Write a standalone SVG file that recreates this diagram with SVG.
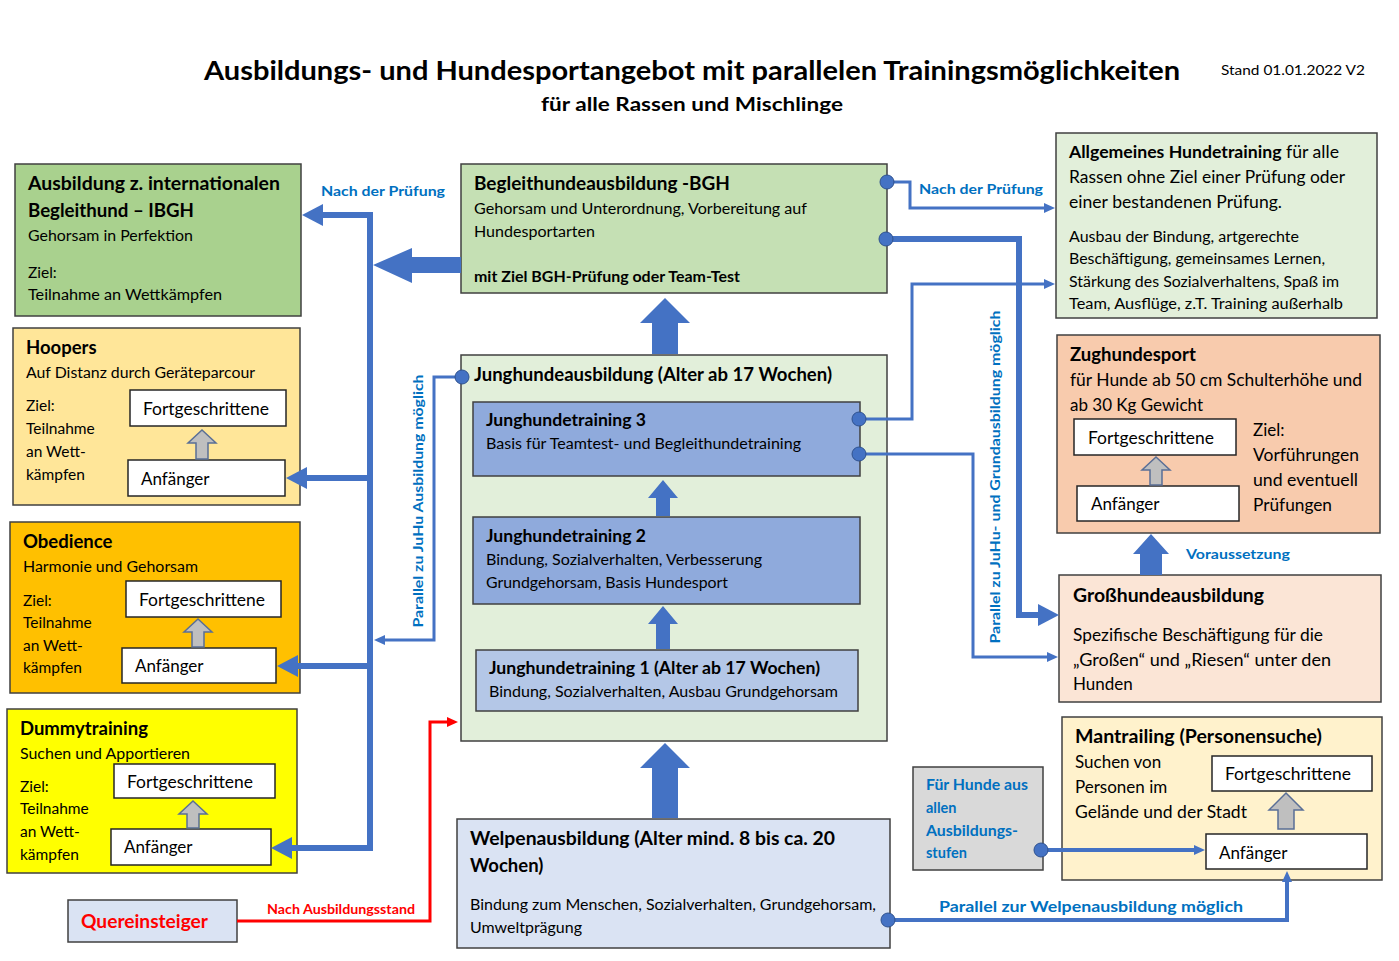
<svg xmlns="http://www.w3.org/2000/svg" width="1399" height="961" viewBox="0 0 1399 961">
<style>
text{font-family:Lato,"Open Sans","Liberation Sans",sans-serif;fill:#000}
.b{font-weight:bold}
.t{font-size:18.5px;font-weight:bold}
.d{font-size:15.5px}
.m{font-size:17px}
.lbl{font-size:13.5px;font-weight:bold;fill:#0070c0}
.box{stroke:#404040;stroke-width:1.5}
.wb{fill:#fff;stroke:#262626;stroke-width:1.5}
.ga{fill:#bfbfbf;stroke:#5a6f96;stroke-width:1.5}
.ba{fill:#4472c4}
.thick{fill:none;stroke:#4472c4;stroke-width:6}
.thin{fill:none;stroke:#4472c4;stroke-width:3}
.dot{fill:#4472c4;stroke:#2f528f;stroke-width:1}
</style>
<defs>
<marker id="big" markerUnits="userSpaceOnUse" markerWidth="22" markerHeight="24" refX="0" refY="12" orient="auto"><path d="M0,1 L21,12 L0,23 Z" fill="#4472c4"/></marker>
<marker id="sm" markerUnits="userSpaceOnUse" markerWidth="12" markerHeight="12" refX="0" refY="6" orient="auto"><path d="M0,1 L11,6 L0,11 Z" fill="#4472c4"/></marker>
<marker id="red" markerUnits="userSpaceOnUse" markerWidth="12" markerHeight="12" refX="0" refY="6" orient="auto"><path d="M0,1 L11,6 L0,11 Z" fill="#ff0000"/></marker>
</defs>

<g id="title">
<text x="204" y="80" class="b" font-size="26" textLength="976" lengthAdjust="spacingAndGlyphs">Ausbildungs- und Hundesportangebot mit parallelen Trainingsmöglichkeiten</text>
<text x="541" y="111" class="b" font-size="19" textLength="302" lengthAdjust="spacingAndGlyphs">für alle Rassen und Mischlinge</text>
<text x="1221" y="75" font-size="14" textLength="144" lengthAdjust="spacingAndGlyphs">Stand 01.01.2022 V2</text>
</g>

<g id="ibgh">
<rect class="box" x="15" y="164" width="286" height="152" fill="#a9d18e"/>
<text x="28" y="190" class="t" textLength="252" lengthAdjust="spacingAndGlyphs">Ausbildung z. internationalen</text>
<text x="28" y="217" class="t" textLength="166" lengthAdjust="spacingAndGlyphs">Begleithund – IBGH</text>
<text x="28" y="241" class="d" textLength="165" lengthAdjust="spacingAndGlyphs">Gehorsam in Perfektion</text>
<text x="28" y="278" class="d">Ziel:</text>
<text x="28" y="300" class="d" textLength="194" lengthAdjust="spacingAndGlyphs">Teilnahme an Wettkämpfen</text>
</g>

<g id="hoopers">
<rect class="box" x="13" y="328" width="287" height="177" fill="#ffe699"/>
<text x="26" y="354" class="t">Hoopers</text>
<text x="26" y="378" class="d" textLength="229" lengthAdjust="spacingAndGlyphs">Auf Distanz durch Geräteparcour</text>
<text x="26" y="411" class="d">Ziel:</text>
<text x="26" y="434" class="d">Teilnahme</text>
<text x="26" y="457" class="d">an Wett-</text>
<text x="26" y="480" class="d">kämpfen</text>
<rect class="wb" x="130" y="390" width="156" height="36"/>
<text x="143" y="415" class="m" textLength="126" lengthAdjust="spacingAndGlyphs">Fortgeschrittene</text>
<rect class="wb" x="128" y="460" width="157" height="36"/>
<text x="141" y="485" class="m">Anfänger</text>
<path class="ga" d="M202,430 L216,443 L208,443 L208,459 L196,459 L196,443 L188,443 Z"/>
</g>

<g id="obedience">
<rect class="box" x="10" y="522" width="290" height="171" fill="#ffc000"/>
<text x="23" y="548" class="t">Obedience</text>
<text x="23" y="572" class="d" textLength="175" lengthAdjust="spacingAndGlyphs">Harmonie und Gehorsam</text>
<text x="23" y="606" class="d">Ziel:</text>
<text x="23" y="628" class="d">Teilnahme</text>
<text x="23" y="651" class="d">an Wett-</text>
<text x="23" y="673" class="d">kämpfen</text>
<rect class="wb" x="126" y="581" width="155" height="36"/>
<text x="139" y="606" class="m" textLength="126" lengthAdjust="spacingAndGlyphs">Fortgeschrittene</text>
<rect class="wb" x="122" y="648" width="154" height="35"/>
<text x="135" y="672" class="m">Anfänger</text>
<path class="ga" d="M198,619 L212,632 L204,632 L204,647 L192,647 L192,632 L184,632 Z"/>
</g>

<g id="dummy">
<rect class="box" x="7" y="709" width="290" height="164" fill="#ffff00"/>
<text x="20" y="735" class="t">Dummytraining</text>
<text x="20" y="759" class="d" textLength="170" lengthAdjust="spacingAndGlyphs">Suchen und Apportieren</text>
<text x="20" y="792" class="d">Ziel:</text>
<text x="20" y="814" class="d">Teilnahme</text>
<text x="20" y="837" class="d">an Wett-</text>
<text x="20" y="860" class="d">kämpfen</text>
<rect class="wb" x="114" y="764" width="161" height="34"/>
<text x="127" y="788" class="m" textLength="126" lengthAdjust="spacingAndGlyphs">Fortgeschrittene</text>
<rect class="wb" x="111" y="829" width="160" height="36"/>
<text x="124" y="853" class="m">Anfänger</text>
<path class="ga" d="M193,801 L207,814 L199,814 L199,828 L187,828 L187,814 L179,814 Z"/>
</g>

<g id="quereinsteiger">
<rect class="box" x="68" y="900" width="169" height="42" fill="#dae3f3"/>
<text x="81" y="928" font-size="18.5" font-weight="bold" style="fill:#ff0000" textLength="127" lengthAdjust="spacingAndGlyphs">Quereinsteiger</text>
</g>

<g id="bgh">
<rect class="box" x="461" y="164" width="426" height="129" fill="#c5e0b4"/>
<text x="474" y="190" class="t" textLength="256" lengthAdjust="spacingAndGlyphs">Begleithundeausbildung -BGH</text>
<text x="474" y="214" class="d" textLength="333" lengthAdjust="spacingAndGlyphs">Gehorsam und Unterordnung, Vorbereitung auf</text>
<text x="474" y="237" class="d" textLength="121" lengthAdjust="spacingAndGlyphs">Hundesportarten</text>
<text x="474" y="282" class="d b" textLength="266" lengthAdjust="spacingAndGlyphs">mit Ziel BGH-Prüfung oder Team-Test</text>
</g>

<g id="junghund">
<rect class="box" x="461" y="355" width="426" height="386" fill="#e2efda"/>
<text x="474" y="381" class="t" textLength="358" lengthAdjust="spacingAndGlyphs">Junghundeausbildung (Alter ab 17 Wochen)</text>
</g>

<g id="jt3">
<rect class="box" x="473" y="402" width="387" height="74" fill="#8faadc"/>
<text x="486" y="426" class="b" font-size="16.5" textLength="160" lengthAdjust="spacingAndGlyphs">Junghundetraining 3</text>
<text x="486" y="449" class="d" textLength="315" lengthAdjust="spacingAndGlyphs">Basis für Teamtest- und Begleithundetraining</text>
</g>

<g id="jt2">
<rect class="box" x="473" y="517" width="387" height="87" fill="#8faadc"/>
<text x="486" y="542" class="b" font-size="16.5" textLength="160" lengthAdjust="spacingAndGlyphs">Junghundetraining 2</text>
<text x="486" y="565" class="d" textLength="276" lengthAdjust="spacingAndGlyphs">Bindung, Sozialverhalten, Verbesserung</text>
<text x="486" y="588" class="d" textLength="242" lengthAdjust="spacingAndGlyphs">Grundgehorsam, Basis Hundesport</text>
</g>

<g id="jt1">
<rect class="box" x="476" y="650" width="382" height="61" fill="#b4c7e7"/>
<text x="489" y="674" class="b" font-size="16.5" textLength="331" lengthAdjust="spacingAndGlyphs">Junghundetraining 1 (Alter ab 17 Wochen)</text>
<text x="489" y="697" class="d" textLength="349" lengthAdjust="spacingAndGlyphs">Bindung, Sozialverhalten, Ausbau Grundgehorsam</text>
</g>

<g id="welpen">
<rect class="box" x="457" y="819" width="433" height="129" fill="#dae3f3"/>
<text x="470" y="845" class="t" textLength="365" lengthAdjust="spacingAndGlyphs">Welpenausbildung (Alter mind. 8 bis ca. 20</text>
<text x="470" y="872" class="t">Wochen)</text>
<text x="470" y="910" class="d" textLength="406" lengthAdjust="spacingAndGlyphs">Bindung zum Menschen, Sozialverhalten, Grundgehorsam,</text>
<text x="470" y="933" class="d" textLength="112" lengthAdjust="spacingAndGlyphs">Umweltprägung</text>
</g>

<g id="allgemein">
<rect class="box" x="1056" y="133" width="321" height="185" fill="#e2efda"/>
<text x="1069" y="158" class="m" textLength="270" lengthAdjust="spacingAndGlyphs"><tspan class="b">Allgemeines Hundetraining</tspan> für alle</text>
<text x="1069" y="183" class="m" textLength="276" lengthAdjust="spacingAndGlyphs">Rassen ohne Ziel einer Prüfung oder</text>
<text x="1069" y="208" class="m" textLength="213" lengthAdjust="spacingAndGlyphs">einer bestandenen Prüfung.</text>
<text x="1069" y="242" class="d" textLength="230" lengthAdjust="spacingAndGlyphs">Ausbau der Bindung, artgerechte</text>
<text x="1069" y="264" class="d" textLength="256" lengthAdjust="spacingAndGlyphs">Beschäftigung, gemeinsames Lernen,</text>
<text x="1069" y="287" class="d" textLength="270" lengthAdjust="spacingAndGlyphs">Stärkung des Sozialverhaltens, Spaß im</text>
<text x="1069" y="309" class="d" textLength="274" lengthAdjust="spacingAndGlyphs">Team, Ausflüge, z.T. Training außerhalb</text>
</g>

<g id="zughund">
<rect class="box" x="1057" y="335" width="323" height="198" fill="#f8cbad"/>
<text x="1070" y="361" class="t">Zughundesport</text>
<text x="1070" y="386" class="m" textLength="292" lengthAdjust="spacingAndGlyphs">für Hunde ab 50 cm Schulterhöhe und</text>
<text x="1070" y="411" class="m" textLength="133" lengthAdjust="spacingAndGlyphs">ab 30 Kg Gewicht</text>
<rect class="wb" x="1074" y="419" width="162" height="36"/>
<text x="1088" y="444" class="m" textLength="126" lengthAdjust="spacingAndGlyphs">Fortgeschrittene</text>
<rect class="wb" x="1077" y="486" width="162" height="35"/>
<text x="1091" y="510" class="m">Anfänger</text>
<path class="ga" d="M1156,457 L1170,470 L1162,470 L1162,485 L1150,485 L1150,470 L1142,470 Z"/>
<text x="1253" y="436" class="m">Ziel:</text>
<text x="1253" y="461" class="m" textLength="106" lengthAdjust="spacingAndGlyphs">Vorführungen</text>
<text x="1253" y="486" class="m" textLength="105" lengthAdjust="spacingAndGlyphs">und eventuell</text>
<text x="1253" y="511" class="m" textLength="79" lengthAdjust="spacingAndGlyphs">Prüfungen</text>
</g>

<g id="grosshund">
<rect class="box" x="1059" y="575" width="322" height="127" fill="#fbe5d6"/>
<text x="1073" y="602" class="t" textLength="191" lengthAdjust="spacingAndGlyphs">Großhundeausbildung</text>
<text x="1073" y="641" class="m" textLength="250" lengthAdjust="spacingAndGlyphs">Spezifische Beschäftigung für die</text>
<text x="1073" y="666" class="m" textLength="258" lengthAdjust="spacingAndGlyphs">„Großen“ und „Riesen“ unter den</text>
<text x="1073" y="690" class="m">Hunden</text>
</g>

<g id="fuer-hunde">
<rect class="box" x="913" y="767" width="130" height="103" fill="#d9d9d9"/>
<text x="926" y="790" class="lbl" style="font-size:14.5px" textLength="102" lengthAdjust="spacingAndGlyphs">Für Hunde aus</text>
<text x="926" y="813" class="lbl" style="font-size:14.5px">allen</text>
<text x="926" y="836" class="lbl" style="font-size:14.5px" textLength="92" lengthAdjust="spacingAndGlyphs">Ausbildungs-</text>
<text x="926" y="858" class="lbl" style="font-size:14.5px">stufen</text>
</g>

<g id="mantrailing">
<rect class="box" x="1062" y="717" width="320" height="163" fill="#fff2cc"/>
<text x="1075" y="743" class="t" textLength="247" lengthAdjust="spacingAndGlyphs">Mantrailing (Personensuche)</text>
<text x="1075" y="768" class="m">Suchen von</text>
<text x="1075" y="793" class="m">Personen im</text>
<text x="1075" y="818" class="m" textLength="172" lengthAdjust="spacingAndGlyphs">Gelände und der Stadt</text>
<rect class="wb" x="1212" y="756" width="160" height="35"/>
<text x="1225" y="780" class="m" textLength="126" lengthAdjust="spacingAndGlyphs">Fortgeschrittene</text>
<rect class="wb" x="1206" y="834" width="161" height="35"/>
<text x="1219" y="859" class="m">Anfänger</text>
<path class="ga" d="M1286,793 L1303,810 L1294,810 L1294,829 L1278,829 L1278,810 L1269,810 Z"/>
</g>

<g id="connectors">
<path class="thick" d="M370,212 V851"/>
<path class="thick" d="M373,215 H323" marker-end="url(#big)"/>
<path class="thick" d="M373,478 H307" marker-end="url(#big)"/>
<path class="thick" d="M373,666 H298" marker-end="url(#big)"/>
<path class="thick" d="M373,848 H292" marker-end="url(#big)"/>
<polygon class="ba" points="373,265 412,248 412,257 461,257 461,273 412,273 412,283"/>
<path class="thin" d="M461,377 H434 V640 H385" marker-end="url(#sm)"/>
<path d="M237,921 H430 V722 H447" fill="none" stroke="#ff0000" stroke-width="3" marker-end="url(#red)"/>
<path class="ba" d="M665,298 L690,323 L678,323 L678,354 L652,354 L652,323 L640,323 Z"/>
<path class="ba" d="M663,480 L678,498 L670,498 L670,516 L656,516 L656,498 L648,498 Z"/>
<path class="ba" d="M663,606 L678,624 L670,624 L670,649 L656,649 L656,624 L648,624 Z"/>
<path class="ba" d="M665,743 L690,768 L678,768 L678,818 L652,818 L652,768 L640,768 Z"/>
<path class="ba" d="M1151,534 L1169,554 L1162,554 L1162,575 L1140,575 L1140,554 L1133,554 Z"/>
<path class="thin" d="M887,182 H910 V208 H1044" marker-end="url(#sm)"/>
<path class="thick" d="M886,239 H1019 V615 H1038" marker-end="url(#big)"/>
<path class="thin" d="M859,419 H912 V284 H1044" marker-end="url(#sm)"/>
<path class="thin" d="M859,454 H973 V657 H1047" marker-end="url(#sm)"/>
<path d="M888,920 H1287 V882" fill="none" stroke="#4472c4" stroke-width="4" marker-end="url(#sm)"/>
<path d="M1041,850 H1194" fill="none" stroke="#4472c4" stroke-width="4" marker-end="url(#sm)"/>
<text x="321" y="196" class="lbl" textLength="124" lengthAdjust="spacingAndGlyphs">Nach der Prüfung</text>
<text x="919" y="194" class="lbl" textLength="124" lengthAdjust="spacingAndGlyphs">Nach der Prüfung</text>
<text x="267" y="914" font-size="13" font-weight="bold" style="fill:#ff0000" textLength="148" lengthAdjust="spacingAndGlyphs">Nach Ausbildungsstand</text>
<text class="lbl" text-anchor="middle" transform="translate(423,501) rotate(-90)" textLength="253" lengthAdjust="spacingAndGlyphs">Parallel zu JuHu Ausbildung möglich</text>
<text class="lbl" text-anchor="middle" transform="translate(1000,477) rotate(-90)" textLength="333" lengthAdjust="spacingAndGlyphs">Parallel zu JuHu- und Grundausbildung möglich</text>
<text x="1186" y="559" class="lbl" textLength="104" lengthAdjust="spacingAndGlyphs">Voraussetzung</text>
<text x="939" y="912" class="lbl" style="font-size:16px" textLength="304" lengthAdjust="spacingAndGlyphs">Parallel zur Welpenausbildung möglich</text>
<circle class="dot" cx="887" cy="182" r="7"/>
<circle class="dot" cx="886" cy="239" r="7"/>
<circle class="dot" cx="859" cy="419" r="7"/>
<circle class="dot" cx="859" cy="454" r="7"/>
<circle class="dot" cx="462" cy="377" r="7"/>
<circle class="dot" cx="888" cy="920" r="7"/>
<circle class="dot" cx="1041" cy="850" r="7"/>
</g>
</svg>
